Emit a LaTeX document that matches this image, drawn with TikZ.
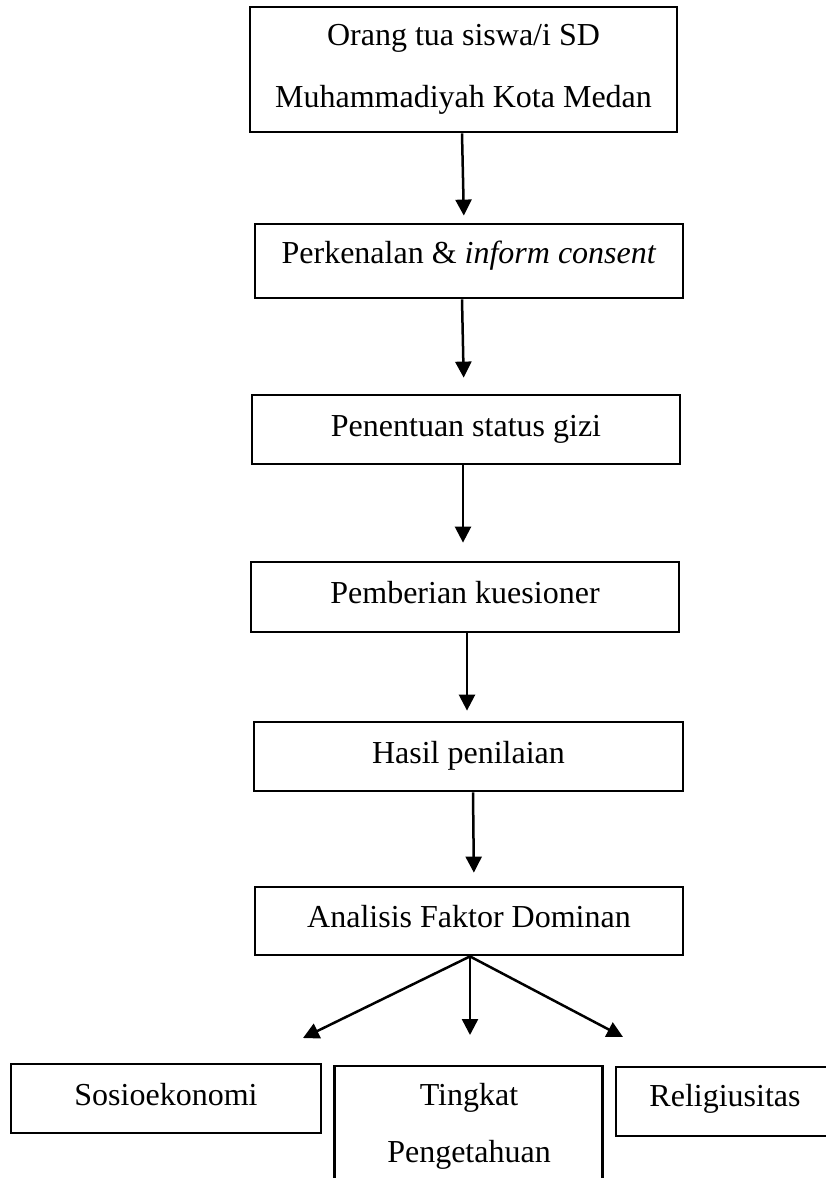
\documentclass[tikz,border=0pt]{standalone}
\usepackage{fontspec}
\setmainfont{Liberation Serif}
\usetikzlibrary{arrows.meta}
\begin{document}
\begin{tikzpicture}[x=1pt,y=-1pt]
\tikzset{
  boxbase/.style={draw, line width=2.8pt, inner sep=0pt, font=\fontsize{32}{38}\selectfont},
  box/.style={boxbase, minimum width=428pt, text height=20pt, text depth=7pt},
  arr/.style={line width=2.5pt, -{Triangle[length=16pt,width=16pt]}},
}
\useasboundingbox (0,0) rectangle (825,1178);
\node[boxbase, minimum width=427pt, minimum height=125pt, align=center, font=\fontsize{32}{62}\selectfont] (b1) at (463.5,69.5) {Orang tua siswa/i SD\\Muhammadiyah Kota Medan};
\node[box, minimum height=74pt, text depth=16pt] (b2) at (469,261) {Perkenalan \& \textit{inform consent}};
\node[box, minimum height=69pt] (b3) at (466,429.5) {Penentuan status gizi};
\node[box, minimum height=70pt] (b4) at (465,597) {Pemberian kuesioner};
\node[box, minimum width=429pt, minimum height=69pt] (b5) at (468.5,756.5) {Hasil penilaian};
\node[box, minimum height=68pt] (b6) at (469,921) {Analisis Faktor Dominan};
\node[box, minimum width=310pt, minimum height=69pt] (so) at (166,1098.5) {Sosioekonomi};
\node[box, minimum width=218pt, minimum height=69pt, text depth=11pt] (re) at (725,1101.5) {Religiusitas};
\node[minimum width=267pt, minimum height=140pt, inner sep=0pt, anchor=north] (tkf) at (468.5,1066) {};
\draw[line width=2.8pt] (tkf.south west) -- (tkf.north west) -- (tkf.north east) -- (tkf.south east);
\node[font=\fontsize{32}{57}\selectfont, align=center, anchor=base, inner sep=0pt] (tk) at (469,1162) {Tingkat\\Pengetahuan};
\draw[arr, shorten >=7pt] ([xshift=-1.5pt]b1.south) -- ([xshift=-5pt]b2.north);
\draw[arr, shorten >=16pt] ([xshift=-7pt]b2.south) -- ([xshift=-2pt]b3.north);
\draw[arr, shorten >=18pt] ([xshift=-3pt]b3.south) -- ([xshift=-2pt]b4.north);
\draw[arr, shorten >=10pt] ([xshift=2pt]b4.south) -- ([xshift=-1.5pt]b5.north);
\draw[arr, shorten >=13pt] ([xshift=4.5pt]b5.south) -- ([xshift=5pt]b6.north);
\coordinate (tL) at (303,1038);
\coordinate (tM) at (470,1035);
\coordinate (tR) at (623,1037);
\draw[arr] ([xshift=1pt]b6.south) -- (tL);
\draw[arr] ([xshift=1pt]b6.south) -- (tM);
\draw[arr] ([xshift=1pt]b6.south) -- (tR);
\end{tikzpicture}
\end{document}
